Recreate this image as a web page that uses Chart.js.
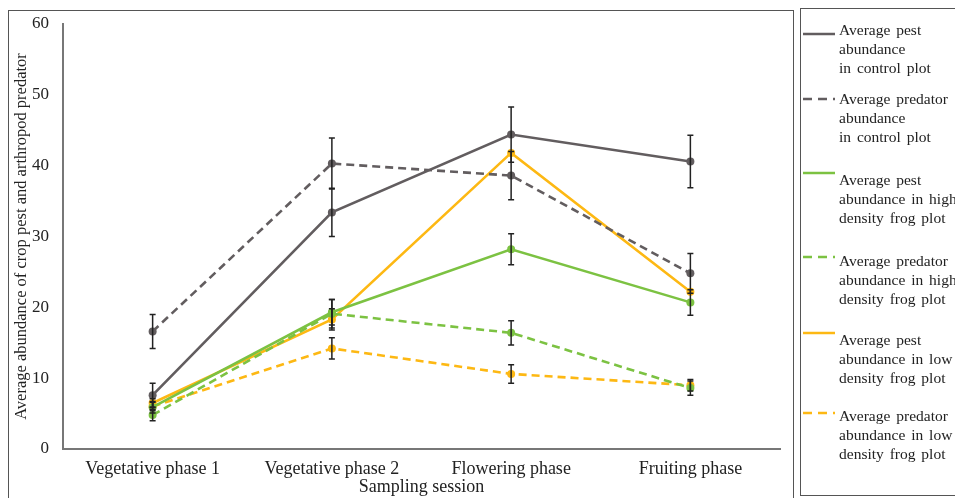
<!DOCTYPE html>
<html>
<head>
<meta charset="utf-8">
<script src="https://cdn.jsdelivr.net/npm/chart.js@4"></script>
<style>
  body { margin: 0; background: #fff; font-family: "Liberation Serif", serif; }
  #wrap { position: relative; width: 955px; height: 498px; overflow: hidden; }
  #frame { position: absolute; left: 8px; top: 10px; width: 784px; height: 500px; border: 1px solid #555; }
  #chart { position: absolute; left: 0; top: 0; }
  #legend { position: absolute; left: 800px; top: 8px; width: 170px; height: 486px; border: 1px solid #555; }
  .item { position: absolute; left: 0; width: 170px; }
  .item svg { position: absolute; left: 2px; }
  .item .txt { position: absolute; left: 38px; font-size: 15.5px; line-height: 19px; color: #222; white-space: nowrap; word-spacing: 2px; }
</style>
</head>
<body>
<div id="wrap">
  <div id="frame"></div>
  <canvas id="chart" width="955" height="498"></canvas>
  <div id="legend"></div>
</div>
<script>
const ctx = document.getElementById('chart');

let phases = ['Vegetative phase 1', 'Vegetative phase 2', 'Flowering phase', 'Fruiting phase'];

// means
let pestControl = [7.6, 33.4, 44.4, 40.6];
let predControl = [16.6, 40.3, 38.6, 24.8];
let pestHigh = [5.9, 19.3, 28.2, 20.7];
let predHigh = [4.8, 19.1, 16.4, 8.6];
let pestLow = [6.5, 18.3, 41.8, 22.2];
let predLow = [6.0, 14.2, 10.6, 9.0];

// standard errors
let pestControlErr = [1.7, 3.4, 3.9, 3.7];
let predControlErr = [2.4, 3.6, 3.4, 2.8];
let pestHighErr = [0.8, 1.8, 2.2, 1.8];
let predHighErr = [0.8, 2.0, 1.7, 1.0];
let pestLowErr = [0.6, 1.5, 0, 0];
let predLowErr = [0.6, 1.5, 1.3, 0.8];

let legendText = [
  ['Average pest', 'abundance', 'in control plot'],
  ['Average predator', 'abundance', 'in control plot'],
  ['Average pest', 'abundance in high', 'density frog plot'],
  ['Average predator', 'abundance in high', 'density frog plot'],
  ['Average pest', 'abundance in low', 'density frog plot'],
  ['Average predator', 'abundance in low', 'density frog plot']
];

const gray = '#625d5f';
const green = '#7cc242';
const orange = '#fdb813';

function series(data, err, color, dashed){
  return {
    data: data,
    err: err,
    borderColor: color,
    backgroundColor: color,
    borderWidth: 2.6,
    borderDash: dashed ? [8, 5] : [],
    pointRadius: 4,
    pointBorderWidth: 0,
    tension: 0
  };
}

let datasets = [
  series(pestControl, pestControlErr, gray, false),
  series(predControl, predControlErr, gray, true),
  series(pestHigh, pestHighErr, green, false),
  series(predHigh, predHighErr, green, true),
  series(pestLow, pestLowErr, orange, false),
  series(predLow, predLowErr, orange, true)
];
datasets.forEach((d, i) => d.label = legendText[i].join(' '));

const errorBars = {
  id: 'errorBars',
  afterDatasetsDraw(chart){
    const c = chart.ctx;
    const y = chart.scales.y;
    c.save();
    c.strokeStyle = '#222';
    c.lineWidth = 1.5;
    c.setLineDash([]);
    chart.data.datasets.forEach((ds, i) => {
      const meta = chart.getDatasetMeta(i);
      meta.data.forEach((pt, j) => {
        const e = ds.err[j];
        if (!e) return;
        const top = y.getPixelForValue(ds.data[j] + e);
        const bot = y.getPixelForValue(ds.data[j] - e);
        c.beginPath();
        c.moveTo(pt.x, top); c.lineTo(pt.x, bot);
        c.moveTo(pt.x - 3, top); c.lineTo(pt.x + 3, top);
        c.moveTo(pt.x - 3, bot); c.lineTo(pt.x + 3, bot);
        c.stroke();
      });
    });
    c.restore();
  }
};

new Chart(ctx, {
  type: 'line',
  data: { labels: phases, datasets: datasets },
  plugins: [errorBars],
  options: {
    responsive: false,
    animation: false,
    layout: { padding: { top: 24, right: 175, bottom: 0, left: 0 } },
    plugins: { legend: { display: false }, tooltip: { enabled: false } },
    scales: {
      x: {
        offset: true,
        grid: { display: false },
        border: { color: '#777', width: 2 },
        ticks: { color: '#222', font: { family: 'Liberation Serif', size: 18 }, padding: 1 },
        title: { display: true, text: 'Sampling session', color: '#222', font: { family: 'Liberation Serif', size: 18 }, padding: { top: 3, bottom: 0 } },
        afterFit(scale){ scale.height = 49; }
      },
      y: {
        min: 0, max: 60,
        grid: { display: false },
        border: { color: '#777', width: 2 },
        ticks: { stepSize: 10, color: '#222', font: { family: 'Liberation Serif', size: 17 }, padding: 6 },
        title: { display: true, text: 'Average abundance of crop pest and arthropod predator', color: '#222', font: { family: 'Liberation Serif', size: 16.5 }, padding: { top: 12, bottom: 0 } },
        afterFit(scale){ scale.width = 63; }
      }
    }
  }
});

// legend built from datasets
const legend = document.getElementById('legend');
const lineY = [25, 90, 164, 248, 324, 404];
const textY = [11, 80, 161, 242, 321, 397];
datasets.forEach((d, i) => {
  const item = document.createElement('div');
  item.className = 'item';
  item.style.top = '0px';
  const dash = d.borderDash.length ? 'stroke-dasharray="9 6"' : '';
  item.innerHTML = '<svg width="34" height="6" style="top:' + (lineY[i] - 3) + 'px"><line x1="0" y1="3" x2="32" y2="3" stroke="' + d.borderColor + '" stroke-width="2.5" ' + dash + '/></svg>' +
    '<div class="txt" style="top:' + textY[i] + 'px">' + legendText[i].join('<br>') + '</div>';
  legend.appendChild(item);
});
</script>
</body>
</html>
